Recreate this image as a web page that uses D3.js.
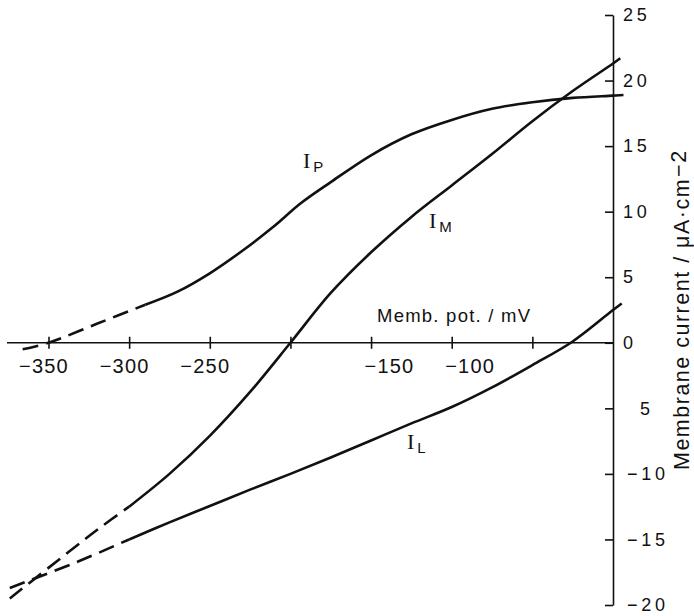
<!DOCTYPE html>
<html>
<head>
<meta charset="utf-8">
<script src="https://cdn.jsdelivr.net/npm/d3@7"></script>
<style>
  html, body { margin: 0; padding: 0; background: #fff; }
  svg { display: block; }
  text { font-family: "Liberation Sans", Arial, sans-serif; fill: #111; }
</style>
</head>
<body>
<svg id="chart" width="694" height="616"></svg>
<script>
// ---- data (membrane potential mV, current µA·cm^-2) ----
const xTicks = [-350, -300, -250, -200, -150, -100, -50];
const xTickLabels = ["−350", "−300", "−250", "", "−150", "−100", ""];
const yTicks = [25, 20, 15, 10, 5, 0, -5, -10, -15, -20];
const yTickLabels = ["25", "20", "15", "10", "5", "0", "5", "−10", "−15", "−20"];

const ipDashed = [[-366, -0.5], [-350, 0], [-320, 1.45], [-290, 2.9]];
const ipSolid = [[-290, 2.9], [-270, 3.9], [-250, 5.3], [-230, 7.0], [-210, 8.9], [-194, 10.6],
                 [-175, 12.25], [-150, 14.3], [-125, 15.9], [-100, 17.0], [-75, 17.85],
                 [-50, 18.35], [-25, 18.68], [0, 18.85], [6.5, 18.9]];
const imDashed = [[-374, -19.5], [-339, -16.1], [-318, -14.1], [-300, -12.5]];
const imSolid = [[-300, -12.5], [-275, -10.0], [-250, -7.1], [-225, -3.75], [-200, 0], [-175, 3.8],
                 [-150, 6.9], [-125, 9.6], [-100, 12.0], [-75, 14.4], [-50, 16.9], [-25, 19.2],
                 [0, 21.3], [4.5, 21.7]];
const ilDashed = [[-374, -18.7], [-332, -16.7], [-300, -15.0]];
const ilSolid = [[-300, -15.0], [-275, -13.7], [-250, -12.45], [-225, -11.2], [-200, -10.0],
                 [-175, -8.75], [-150, -7.45], [-125, -6.15], [-100, -4.9], [-75, -3.4],
                 [-50, -1.7], [-25, 0.1], [0, 2.5], [5.4, 3.0]];

const xLabel = "Memb. pot. / mV";
const yLabel = "Membrane current / μA·cm";
const yLabelSup = "−2";

// ---- scales ----
const x = d3.scaleLinear().domain([-350, 0]).range([48.5, 613]);
const y = d3.scaleLinear().domain([-20, 25]).range([605, 15]);

const svg = d3.select("#chart");

// ---- x axis (line through zero, cross ticks) ----
svg.append("line")
  .attr("x1", 7).attr("x2", x(0))
  .attr("y1", y(0)).attr("y2", y(0))
  .attr("stroke", "#111").attr("stroke-width", 1.6);

const xAxis = d3.axisBottom(x).tickValues(xTicks).tickSizeInner(6).tickSizeOuter(0)
  .tickFormat((d, i) => xTickLabels[i]);
const gx = svg.append("g").attr("transform", `translate(0,${y(0)})`).call(xAxis);
gx.select(".domain").remove();
gx.selectAll(".tick line").attr("y1", -6).attr("y2", 6).attr("stroke", "#111").attr("stroke-width", 1.6);
gx.selectAll(".tick text")
  .attr("font-size", 20)
  .attr("letter-spacing", 1.2)
  .attr("font-family", "Liberation Sans, Arial, sans-serif")
  .attr("fill", "#111")
  .attr("y", 16)
  .attr("dy", "0.71em")
  .attr("text-anchor", d => d > -200 ? "start" : "middle")
  .attr("x", d => d > -200 ? -7 : -5);

// ---- y axis on the right (ticks pointing left, labels right) ----
const yAxis = d3.axisRight(y).tickValues(yTicks).tickSizeInner(-8).tickSizeOuter(0).tickPadding(9)
  .tickFormat((d, i) => yTickLabels[i]);
const gy = svg.append("g").attr("transform", `translate(${x(0)},0)`).call(yAxis);
gy.select(".domain").attr("stroke", "#111").attr("stroke-width", 1.6);
gy.selectAll(".tick line").attr("stroke", "#111").attr("stroke-width", 1.6);
gy.selectAll(".tick text")
  .attr("font-size", 18)
  .attr("letter-spacing", 3.8)
  .attr("font-family", "Liberation Sans, Arial, sans-serif")
  .attr("fill", "#111")
  .attr("x", (d, i) => (d < 0 && !yTickLabels[i].startsWith("−")) ? 27 : (d < 0 ? 14 : 10));

// ---- curves ----
const line = d3.line().x(d => x(d[0])).y(d => y(d[1])).curve(d3.curveCatmullRom.alpha(0.5));
function draw(data, dashed) {
  svg.append("path")
    .attr("d", line(data))
    .attr("fill", "none")
    .attr("stroke", "#111")
    .attr("stroke-width", 2.6)
    .attr("stroke-linecap", "butt")
    .attr("stroke-dasharray", dashed ? "16,8" : null);
}
draw(ipDashed, true);
draw(ipSolid, false);
draw(imDashed, true);
draw(imSolid, false);
draw(ilDashed, true);
draw(ilSolid, false);

// ---- curve labels ----
function curveLabel(px, py, sub) {
  const t = svg.append("text").attr("x", px).attr("y", py);
  t.append("tspan").attr("font-family", "Liberation Serif, serif").attr("font-size", 22).text("I");
  t.append("tspan").attr("font-size", 15).attr("dx", 3).attr("dy", 4).text(sub);
}
curveLabel(303, 168, "P");
curveLabel(429, 228, "M");
curveLabel(407, 449, "L");

// ---- axis titles ----
svg.append("text")
  .attr("x", 377).attr("y", 322)
  .attr("font-size", 18.5)
  .attr("textLength", 153).attr("lengthAdjust", "spacing")
  .text(xLabel);

const yt = svg.append("text")
  .attr("transform", "translate(689,470) rotate(-90)")
  .attr("font-size", 21.5)
  .attr("letter-spacing", 1.5);
yt.append("tspan").text(yLabel);
yt.append("tspan").attr("dx", 1).attr("dy", -3).text(yLabelSup);
</script>
</body>
</html>
